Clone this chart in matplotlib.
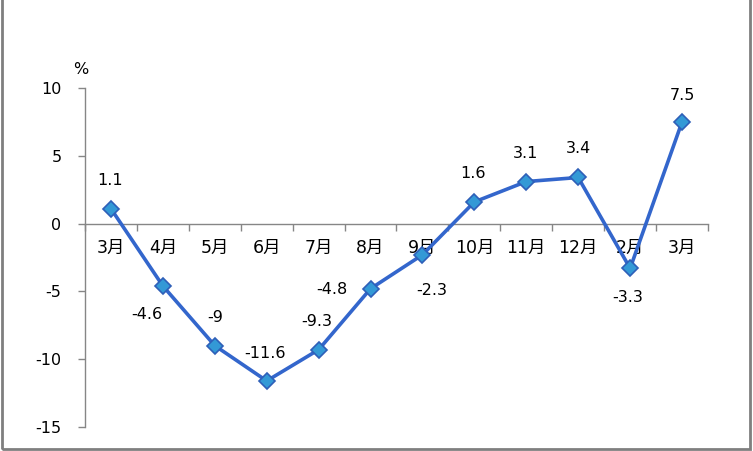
import matplotlib
matplotlib.use("Agg")
import matplotlib.pyplot as plt
from matplotlib.patches import Rectangle

months = ["3月", "4月", "5月", "6月", "7月", "8月", "9月", "10月", "11月", "12月", "2月", "3月"]
values = [1.1, -4.6, -9, -11.6, -9.3, -4.8, -2.3, 1.6, 3.1, 3.4, -3.3, 7.5]
value_labels = ["1.1", "-4.6", "-9", "-11.6", "-9.3", "-4.8", "-2.3", "1.6", "3.1", "3.4", "-3.3", "7.5"]
# label offsets in pixels (dx, dy) relative to marker
offsets_px = [(-1, 28), (-16, -29), (0, 28), (-2, 27), (-2, 28), (-39, -1),
              (9, -36), (-1, 28), (-1, 28), (0, 29), (-2, -29), (0, 26)]
yticks = [-15, -10, -5, 0, 5, 10]

plt.rcParams['font.family'] = ['DejaVu Sans', 'Noto Sans CJK SC']

W, H = 753, 451
fig = plt.figure(figsize=(W / 100, H / 100), dpi=100)
ax = fig.add_axes([85 / W, 1 - 427 / H, (708 - 85) / W, (427 - 88) / H])

x = list(range(len(values)))
ax.plot(x, values, color='#3366CC', lw=2.6, zorder=3,
        marker='D', markersize=8, markerfacecolor='#3399D6',
        markeredgecolor='#2E5FB8', markeredgewidth=1.2)

for xi, v, lab, (dx, dy) in zip(x, values, value_labels, offsets_px):
    ax.annotate(lab, (xi, v), xytext=(dx * 0.72, dy * 0.72), textcoords='offset points',
                ha='center', va='center', fontsize=11.5, color='#000000')

ax.set_xlim(-0.5, len(values) - 0.5)
ax.set_ylim(-15, 10)
ax.set_yticks(yticks)
ax.set_yticklabels([str(t) for t in yticks])

ax.set_xticks([i - 0.5 for i in range(len(values) + 1)], minor=True)
ax.set_xticks(x)
ax.set_xticklabels(months)
ax.tick_params(axis='x', which='major', length=0, pad=11, labelsize=12.5)
ax.tick_params(axis='x', which='minor', length=5, width=1, color='#868686', direction='out')
ax.tick_params(axis='y', length=5, width=1, color='#868686', direction='out', pad=12, labelsize=11.5)

ax.spines['bottom'].set_position(('data', 0))
for s in ['top', 'right']:
    ax.spines[s].set_visible(False)
for s in ['left', 'bottom']:
    ax.spines[s].set_color('#868686')
    ax.spines[s].set_linewidth(1)

fig.text(81 / W, 1 - 69 / H, '%', ha='center', va='center', fontsize=11.5)

fig.patches.append(Rectangle((2 / W, 2 / H), 748 / W, (H + 5) / H, transform=fig.transFigure,
                             fill=False, edgecolor='#7F7F7F', lw=2))

fig.savefig('out.png', dpi=100)
